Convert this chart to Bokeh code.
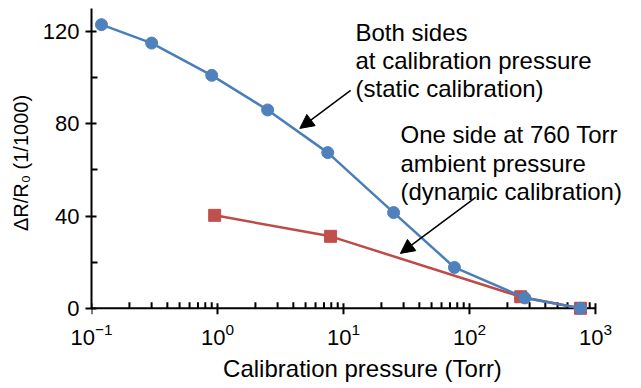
from bokeh.plotting import figure
from bokeh.models import (Range1d, FixedTicker, LogTickFormatter, Label, Arrow,
                          NormalHead)
from bokeh.embed import file_html
from bokeh.resources import INLINE

# Data
static_pressure = [0.12, 0.30, 0.90, 2.5, 7.5, 25, 76, 275, 760]
static_dr = [123, 115, 101, 86, 67.5, 41.5, 17.7, 4.5, 0]

dynamic_pressure = [0.95, 7.9, 255, 760]
dynamic_dr = [40.3, 31.2, 5.0, 0]

x_major = [0.1, 1, 10, 100, 1000]
x_minor = [m * d for d in [0.1, 1, 10, 100] for m in range(2, 10)]
y_major = [0, 40, 80, 120]
y_minor = [20, 60, 100]

static_text = ["Both sides", "at calibration pressure", "(static calibration)"]
dynamic_text = ["One side at 760 Torr", "ambient pressure", "(dynamic calibration)"]

FONT = "Liberation Sans"
BLUE_LINE, BLUE_MARK = "#4A7EBB", "#4F81BD"
RED_LINE, RED_MARK = "#BE4B48", "#C0504D"

Y_MIN, Y_MAX = -4, 130   # a little room below 0 so markers on the axis are not clipped
X_MIN, X_MAX = 0.1, 2004  # room on the right for the annotation text

p = figure(width=633, height=386, x_axis_type="log",
           x_range=Range1d(X_MIN, X_MAX), y_range=Range1d(Y_MIN, Y_MAX),
           output_backend="svg", toolbar_location=None,
           min_border_left=91, min_border_right=0,
           min_border_top=8, min_border_bottom=69)
p.outline_line_color = None
p.xgrid.visible = False
p.ygrid.visible = False
p.background_fill_color = "white"
p.border_fill_color = "white"

# x axis line and ticks drawn at y = 0 (px per unit = 300/130)
PX = 300 / 130.0
p.segment(x0=[x_major[0]], y0=[0], x1=[x_major[-1]], y1=[0],
          line_color="black", line_width=2)
p.segment(x0=x_major, y0=[-6 / PX] * len(x_major), x1=x_major,
          y1=[5 / PX] * len(x_major), line_color="black", line_width=2)
p.segment(x0=x_minor, y0=[0] * len(x_minor), x1=x_minor,
          y1=[6 / PX] * len(x_minor), line_color="black", line_width=2)

# series
p.line(dynamic_pressure, dynamic_dr, line_color=RED_LINE, line_width=2.5)
p.scatter(dynamic_pressure, dynamic_dr, marker="square", size=12,
          fill_color=RED_MARK, line_color=RED_MARK)
p.line(static_pressure, static_dr, line_color=BLUE_LINE, line_width=2.5)
p.scatter(static_pressure, static_dr, marker="circle", size=12,
          fill_color=BLUE_MARK, line_color=BLUE_MARK)

# axes
xa = p.xaxis[0]
ya = p.yaxis[0]
xa.ticker = FixedTicker(ticks=x_major, minor_ticks=[])
xa.formatter = LogTickFormatter()
xa.axis_line_color = None
xa.major_tick_line_color = None
xa.minor_tick_line_color = None
xa.major_tick_out = 0
xa.major_tick_in = 0
xa.major_label_standoff = 5

ya.ticker = FixedTicker(ticks=y_major, minor_ticks=y_minor)
ya.bounds = (0, Y_MAX)
ya.axis_line_color = "black"
ya.axis_line_width = 2
ya.major_tick_line_color = "black"
ya.major_tick_line_width = 2
ya.minor_tick_line_color = "black"
ya.minor_tick_line_width = 2
ya.major_tick_in = 5
ya.major_tick_out = 6
ya.minor_tick_in = 6
ya.minor_tick_out = 0
ya.major_label_standoff = 6

for ax in (xa, ya):
    ax.major_label_text_font = FONT
    ax.major_label_text_font_size = "22px"
    ax.major_label_text_color = "black"
    ax.axis_label_text_font = FONT
    ax.axis_label_text_font_size = "24px"
    ax.axis_label_text_font_style = "normal"
    ax.axis_label_text_color = "black"
xa.axis_label = "Calibration pressure (Torr)"
ya.axis_label = "ΔR/R₀ (1/1000)"
ya.axis_label_text_font_size = "20px"
xa.axis_label_standoff = 7
ya.axis_label_standoff = 8

# annotations
for i, t in enumerate(static_text):
    p.add_layout(Label(x=264, y=285 - 28 * i, x_units="screen", y_units="screen",
                       text=t, text_font=FONT, text_font_size="24px",
                       text_color="black", text_baseline="alphabetic"))
for i, t in enumerate(dynamic_text):
    p.add_layout(Label(x=309, y=183 - 28.5 * i, x_units="screen", y_units="screen",
                       text=t, text_font=FONT, text_font_size="24px",
                       text_color="black", text_baseline="alphabetic"))

p.add_layout(Arrow(x_start=11.4, y_start=94.5, x_end=4.5, y_end=78.0,
                   line_color="black", line_width=1.5,
                   end=NormalHead(size=14, fill_color="black", line_color="black")))
p.add_layout(Arrow(x_start=112, y_start=48.1, x_end=28.3, y_end=23.8,
                   line_color="black", line_width=1.5,
                   end=NormalHead(size=14, fill_color="black", line_color="black")))

open("out.html", "w").write(file_html(p, INLINE))
